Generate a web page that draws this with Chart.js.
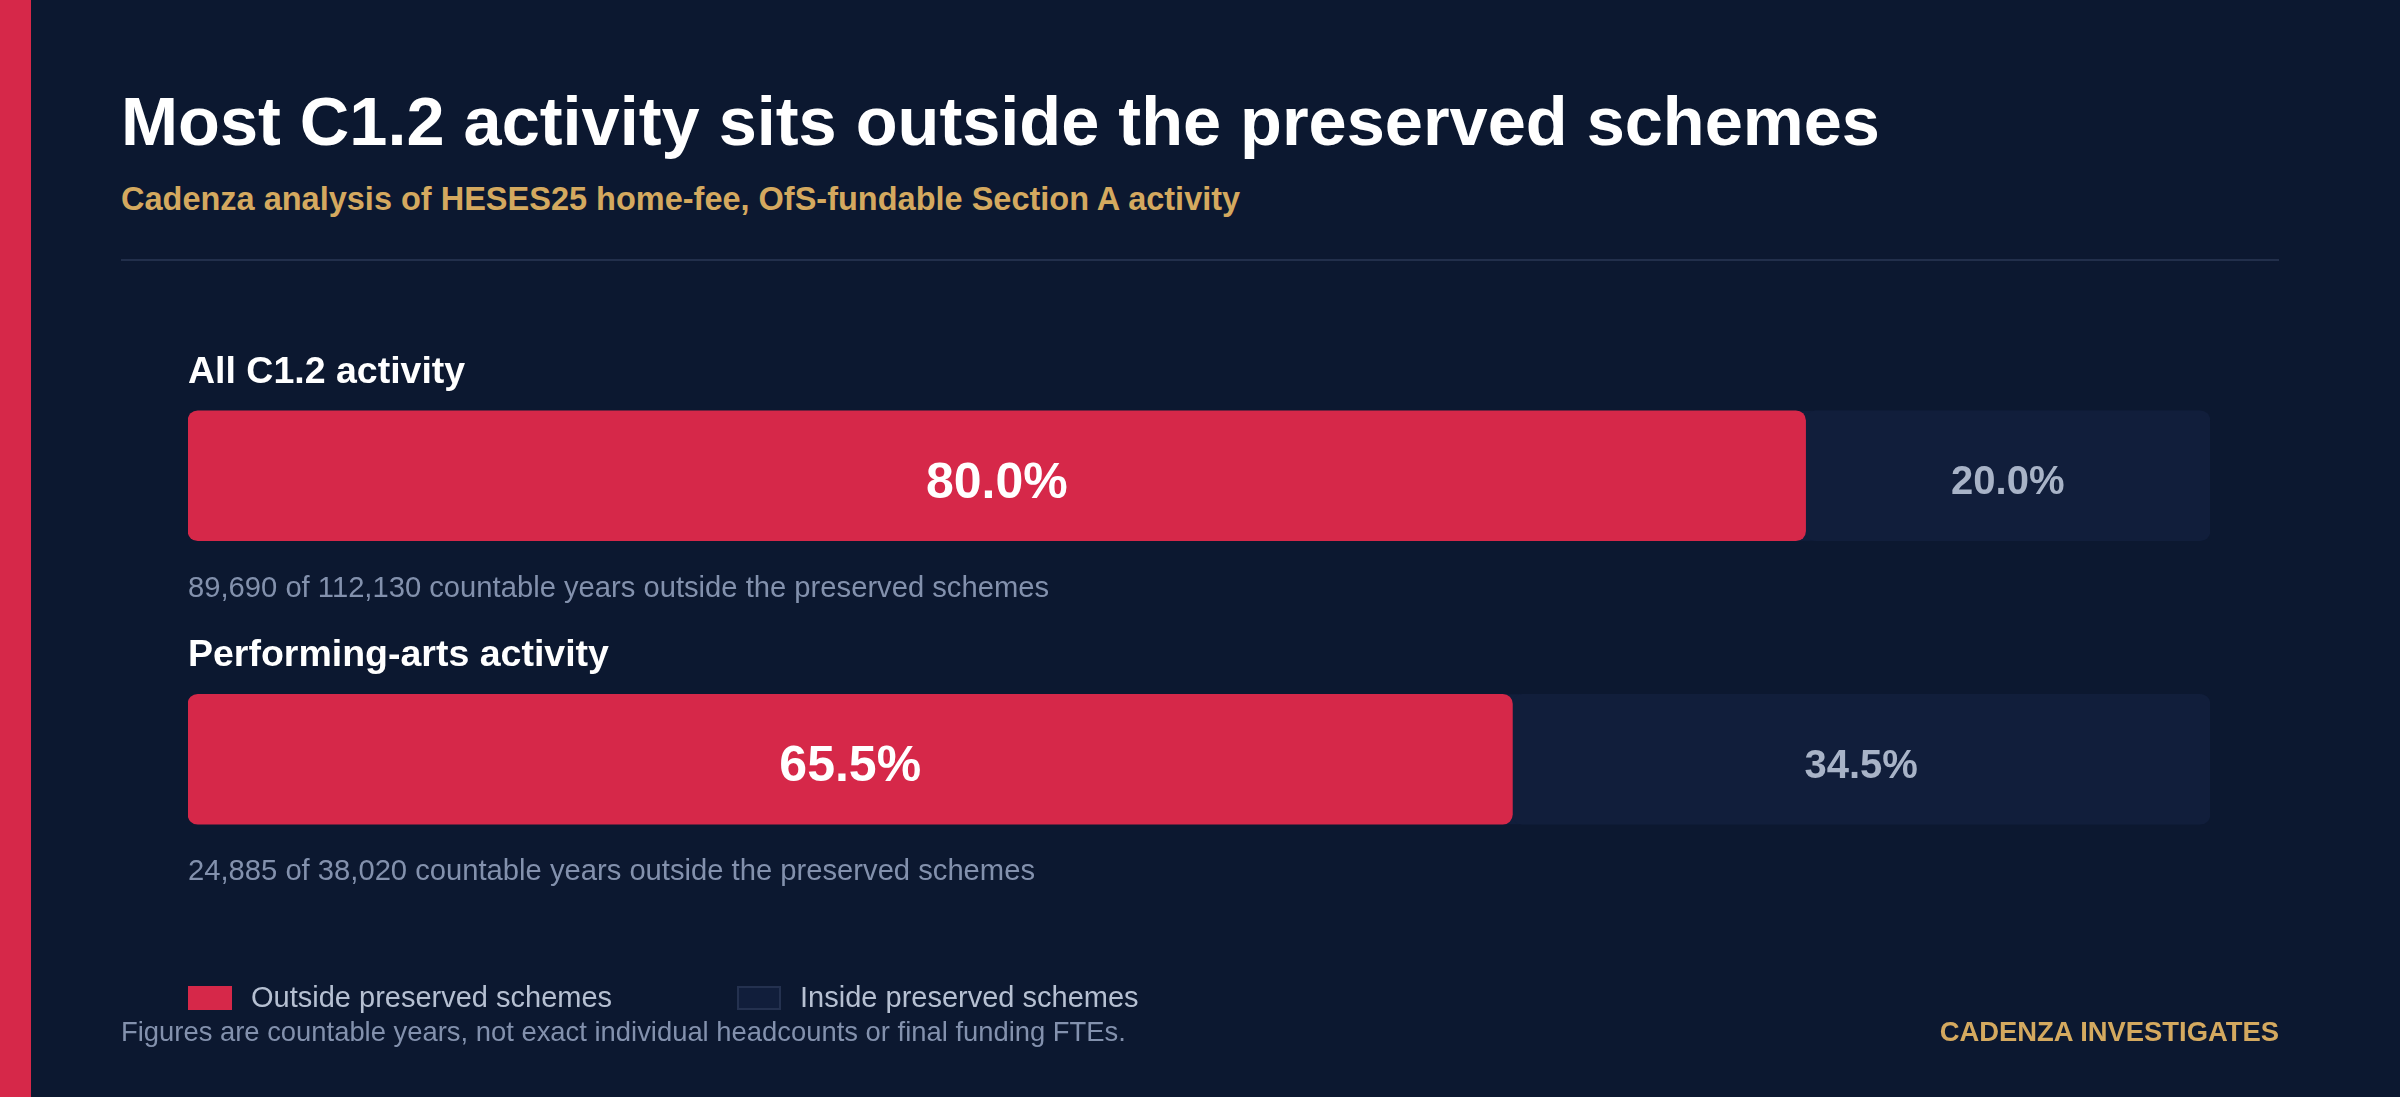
<!DOCTYPE html>
<html lang="en">
<head>
  <meta charset="UTF-8">
  <meta name="viewport" content="width=device-width, initial-scale=1.0">
  <title>Most C1.2 activity sits outside the preserved schemes</title>
  <script src="https://cdn.jsdelivr.net/npm/chart.js"></script>
  <style>
    html, body {
      margin: 0;
      padding: 0;
    }
    body {
      width: 2400px;
      height: 1097px;
      background: #0c1830;
      font-family: "Liberation Sans", Arial, Helvetica, sans-serif;
      position: relative;
      overflow: hidden;
    }
    .stripe {
      position: absolute;
      left: 0;
      top: 0;
      width: 31px;
      height: 100%;
      background: #d62849;
    }
    .txt {
      position: absolute;
      margin: 0;
      line-height: 1;
      white-space: nowrap;
    }
    h1.txt {
      left: 121px;
      top: 88px;
      font-size: 68.5px;
      font-weight: 700;
      color: #ffffff;
    }
    .subtitle {
      left: 121px;
      top: 183px;
      font-size: 32.5px;
      font-weight: 700;
      color: #d4a95f;
    }
    .rule {
      position: absolute;
      left: 121px;
      top: 259px;
      width: 2158px;
      height: 2px;
      background: #222f4b;
    }
    #chart-container {
      position: absolute;
      left: 0;
      top: 0;
      width: 2400px;
      height: 1097px;
    }
    #legend {
      position: absolute;
      left: 188px;
      top: 983px;
      display: flex;
      font-size: 29px;
      color: #b6c0d2;
      line-height: 1;
    }
    #legend .item {
      display: flex;
      align-items: center;
      margin-right: 125px;
    }
    #legend .box {
      width: 44px;
      height: 24px;
      margin-right: 19px;
      box-sizing: border-box;
    }
    .footnote {
      left: 121px;
      top: 1018px;
      font-size: 27.4px;
      color: #8391ad;
    }
    .brand {
      right: 121px;
      top: 1018px;
      font-size: 27.4px;
      font-weight: 700;
      color: #d4a95f;
    }
  </style>
</head>
<body>
<div class="stripe"></div>
<h1 class="txt">Most C1.2 activity sits outside the preserved schemes</h1>
<div class="txt subtitle">Cadenza analysis of HESES25 home-fee, OfS-fundable Section A activity</div>
<div class="rule"></div>
<div id="chart-container">
  <canvas id="shareChart"></canvas>
</div>
<div id="legend"></div>
<div class="txt footnote">Figures are countable years, not exact individual headcounts or final funding FTEs.</div>
<div class="txt brand">CADENZA INVESTIGATES</div>

<script>
  // Данные
  const rowLabels = ['All C1.2 activity', 'Performing-arts activity'];
  const outsideShare = [80.0, 65.5];
  const insideShare = [20.0, 34.5];
  const outsideYears = [89690, 24885];
  const totalYears = [112130, 38020];

  const seriesLabels = ['Outside preserved schemes', 'Inside preserved schemes'];
  const RED = '#d62849';
  const TRACK = '#111e3b';
  const FONT = '"Liberation Sans", Arial, Helvetica, sans-serif';

  const fmt = (n) => n.toLocaleString('en-GB');

  // Подложка под каждой полосой (0..100%)
  const trackPlugin = {
    id: 'track',
    beforeDatasetsDraw(chart) {
      const ctx = chart.ctx;
      const x = chart.scales.x;
      const x0 = x.getPixelForValue(0);
      const x1 = x.getPixelForValue(100);
      ctx.save();
      ctx.fillStyle = TRACK;
      chart.getDatasetMeta(0).data.forEach(bar => {
        ctx.beginPath();
        ctx.roundRect(x0, bar.y - bar.height / 2, x1 - x0, bar.height, 10);
        ctx.fill();
      });
      ctx.restore();
    }
  };

  // Заголовки строк, подписи значений и примечания
  const textPlugin = {
    id: 'rowText',
    afterDatasetsDraw(chart) {
      const ctx = chart.ctx;
      const left = chart.chartArea.left;
      const outMeta = chart.getDatasetMeta(0);
      const inMeta = chart.getDatasetMeta(1);
      ctx.save();
      outMeta.data.forEach((bar, i) => {
        const top = bar.y - bar.height / 2;
        const bottom = bar.y + bar.height / 2;

        ctx.textAlign = 'left';
        ctx.textBaseline = 'alphabetic';
        ctx.fillStyle = '#ffffff';
        ctx.font = `bold 37.5px ${FONT}`;
        ctx.fillText(rowLabels[i], left, top - 28);

        ctx.fillStyle = '#8391ad';
        ctx.font = `29.2px ${FONT}`;
        ctx.fillText(`${fmt(outsideYears[i])} of ${fmt(totalYears[i])} countable years outside the preserved schemes`, left, bottom + 56);

        // подписи процентов (центр заглавных чуть ниже середины полосы)
        ctx.textAlign = 'center';
        ctx.fillStyle = '#ffffff';
        ctx.font = `bold 50px ${FONT}`;
        ctx.fillText(outsideShare[i].toFixed(1) + '%', (bar.base + bar.x) / 2, bar.y + 4 + 50 * 0.716 / 2);

        const ib = inMeta.data[i];
        ctx.fillStyle = '#a8b3c7';
        ctx.font = `bold 40px ${FONT}`;
        ctx.fillText(insideShare[i].toFixed(1) + '%', (ib.base + ib.x) / 2, ib.y + 4 + 40 * 0.716 / 2);
      });
      ctx.restore();
    }
  };

  const corners = {topLeft: 10, topRight: 10, bottomLeft: 10, bottomRight: 10};

  const ctx = document.getElementById('shareChart').getContext('2d');
  const shareChart = new Chart(ctx, {
    type: 'bar',
    data: {
      labels: rowLabels,
      datasets: [
        {
          label: seriesLabels[0],
          data: outsideShare,
          backgroundColor: RED,
          borderRadius: corners,
          borderSkipped: false,
          barThickness: 130
        },
        {
          label: seriesLabels[1],
          data: insideShare,
          backgroundColor: TRACK,
          borderColor: '#24314f',
          borderWidth: 0,
          borderRadius: corners,
          borderSkipped: false,
          barThickness: 130
        }
      ]
    },
    options: {
      indexAxis: 'y',
      responsive: true,
      maintainAspectRatio: false,
      animation: false,
      layout: {
        padding: {left: 188, right: 190, top: 334, bottom: 196}
      },
      scales: {
        x: {stacked: true, min: 0, max: 100, display: false},
        y: {stacked: true, display: false}
      },
      plugins: {
        legend: {display: false},
        tooltip: {enabled: false}
      }
    },
    plugins: [trackPlugin, textPlugin]
  });

  // Легенда из наборов данных
  const legendEl = document.getElementById('legend');
  shareChart.data.datasets.forEach(ds => {
    const item = document.createElement('div');
    item.className = 'item';
    const box = document.createElement('span');
    box.className = 'box';
    box.style.background = ds.backgroundColor;
    if (ds.borderColor) box.style.border = `2px solid ${ds.borderColor}`;
    const label = document.createElement('span');
    label.textContent = ds.label;
    item.appendChild(box);
    item.appendChild(label);
    legendEl.appendChild(item);
  });
</script>
</body>
</html>
